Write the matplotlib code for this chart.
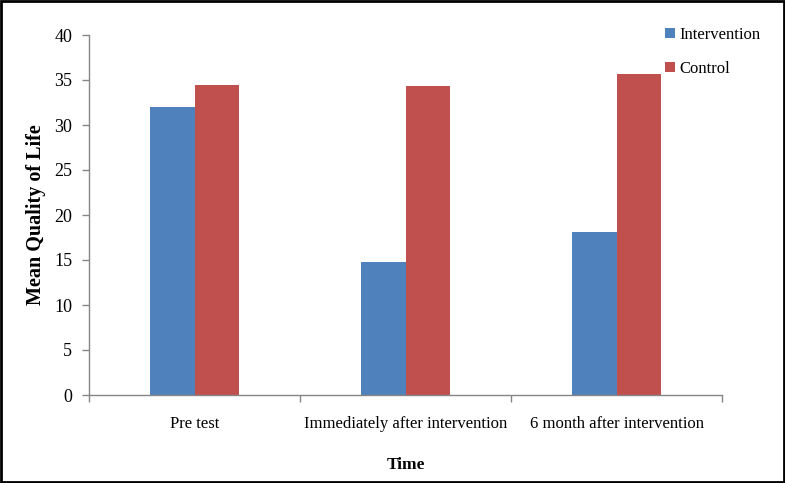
import matplotlib
matplotlib.use("Agg")
import matplotlib.pyplot as plt
from matplotlib.patches import Rectangle
import numpy as np

categories = ["Pre test", "Immediately after intervention", "6 month after intervention"]
intervention = [32.0, 14.8, 18.1]
control = [34.5, 34.3, 35.7]
series_names = ["Intervention", "Control"]
y_ticks = [0, 5, 10, 15, 20, 25, 30, 35, 40]

plt.rcParams['font.family'] = ['Liberation Serif', 'DejaVu Serif']

fig = plt.figure(figsize=(7.85, 4.83), dpi=100)
ax = fig.add_axes([89/785, 1 - 395/483, (722-89)/785, (395-35)/483])

x = np.arange(len(categories))
w = 0.21
ax.bar(x - w/2, intervention, w, color="#4F81BD", label=series_names[0])
ax.bar(x + w/2, control, w, color="#C0504D", label=series_names[1])

ax.set_xlim(-0.5, len(categories) - 0.5)
ax.set_ylim(0, 40)
ax.set_yticks(y_ticks)
ax.set_xticks(x)
ax.set_xticklabels(categories, fontsize=12)
ax.set_xticks(np.arange(-0.5, len(categories)), minor=True)
ax.tick_params(axis='x', which='major', length=0, pad=15)
ax.tick_params(axis='x', which='minor', length=5, color="#868686", width=1)
ax.tick_params(axis='y', length=5, color="#868686", width=1, labelsize=13, pad=7)

for s in ["top", "right"]:
    ax.spines[s].set_visible(False)
for s in ["left", "bottom"]:
    ax.spines[s].set_color("#868686")
    ax.spines[s].set_linewidth(1)

ax.set_ylabel("Mean Quality of Life", fontsize=14.5, fontweight="bold", labelpad=6)
ax.set_xlabel("Time", fontsize=12.5, fontweight="bold", labelpad=18)

fig.legend(loc="upper left", bbox_to_anchor=(658/785, 1 - 20/483), frameon=False,
           fontsize=12, handlelength=0.6, handleheight=0.6, handletextpad=0.3,
           labelspacing=1.1, borderaxespad=0)

fig.patches.append(Rectangle((0.0015, 0.002), 0.997, 0.995, transform=fig.transFigure,
                             fill=False, edgecolor="black", linewidth=2))

fig.savefig("out.png", dpi=100)
